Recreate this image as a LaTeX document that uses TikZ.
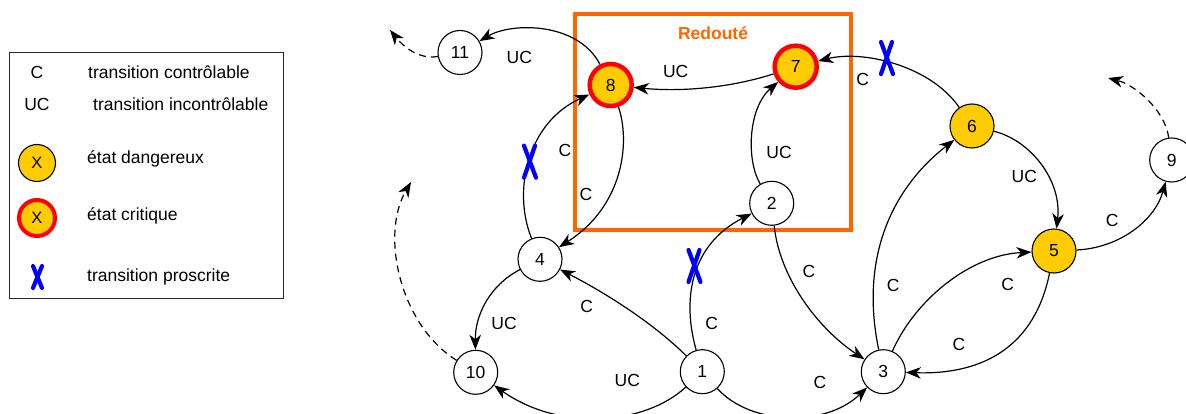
\documentclass[tikz,border=0pt]{standalone}
\usepackage{fontspec}
\setmainfont{Liberation Sans}
\usetikzlibrary{arrows.meta}
\definecolor{gold}{RGB}{255,204,0}
\definecolor{redc}{RGB}{255,0,0}
\definecolor{orng}{RGB}{255,102,0}
\definecolor{bluex}{RGB}{0,0,255}
\begin{document}
\begin{tikzpicture}[x=1pt,y=-1pt,
  every node/.style={font=\fontsize{17.5}{20}\selectfont},
  st/.style={circle,draw,line width=1.1pt,minimum size=44pt,inner sep=0pt,fill=white},
  dang/.style={st,fill=gold},
  crit/.style={st,fill=gold,draw=redc,line width=4.5pt,minimum size=42pt},
  edge/.style={line width=1.2pt,-{Stealth[length=15pt,width=11.5pt,inset=4.5pt]}},
  dedge/.style={edge,dash pattern=on 7pt off 5pt},
  lbl/.style={inner sep=0pt},
  xmk/.style={draw=bluex,line width=4.2pt,line cap=round},
  proscr/.pic={\draw[xmk] (-6,-16) -- (6,16); \draw[xmk] (5,-16) -- (-6,16);}
]
\path[use as bounding box] (0,0) rectangle (1186,414);
\clip (0,0) rectangle (1186,414);

% legend
\node[draw=black!85,line width=1pt,outer sep=0pt,inner sep=0pt,minimum width=274pt,minimum height=245pt] (legend) at (146,175.5) {};
\node[lbl] (kC) at (37,72) {C};
\node[lbl,anchor=west] (kCt) at (88,72) {transition contrôlable};
\node[lbl] (kUC) at (37,104) {UC};
\node[lbl,anchor=west] (kUCt) at (93,104) {transition incontrôlable};
\node[dang,minimum size=37pt,font=\fontsize{16.5}{18}\selectfont] (kD) at (37,163) {X};
\node[lbl,anchor=west] (kDt) at (87,159) {état dangereux};
\node[crit,minimum size=36pt,line width=4pt,font=\fontsize{16.5}{18}\selectfont] (kR) at (37,218) {X};
\node[lbl,anchor=west] (kRt) at (87,216) {état critique};
\draw[xmk] (33,266) -- (42,288);
\draw[xmk] (42,266) -- (33,288);
\node[lbl,anchor=west] (kXt) at (87,277) {transition proscrite};

% zone
\node[draw=orng,line width=4pt,outer sep=0pt,inner sep=0pt,minimum width=276pt,minimum height=216.5pt] (zone) at (713.3,122) {};
\node[lbl,text=orng,font=\fontsize{17.5}{20}\selectfont\bfseries] (zt) at (713,33) {Redouté};

% states
\node[st] (n1) at (702.3,371.7) {1};
\node[st] (n2) at (771.7,203.3) {2};
\node[st] (n3) at (883.3,371.7) {3};
\node[st] (n4) at (540,259.3) {4};
\node[dang] (n5) at (1054,251) {5};
\node[dang] (n6) at (972,126) {6};
\node[crit] (n7) at (795.7,66.7) {7};
\node[crit] (n8) at (610.7,85) {8};
\node[st] (n9) at (1171.7,160) {9};
\node[st] (n10) at (475.7,372.3) {10};
\node[st] (n11) at (460,52.5) {11};

\coordinate (d11) at (390,30);
\coordinate (d10) at (411,182);
\coordinate (d9) at (1108,78);

% transitions
\draw[edge] (n8) .. controls (578,22) and (512,22) .. (n11);
\draw[dedge] (n11) .. controls (418,60) and (402,45) .. (d11);
\draw[edge] (n7) .. controls (730,88) and (680,92) .. (n8);
\draw[edge] (n2) .. controls (746,160) and (748,108) .. (n7);
\draw[edge] (n6) .. controls (930,65) and (862,50) .. (n7);
\draw[edge] (n8) .. controls (630,140) and (625,205) .. (n4);
\draw[edge] (n4) .. controls (512,190) and (528,122) .. (n8);
\draw[edge] (n4) .. controls (490,285) and (475,315) .. (n10);
\draw[dedge] (n10) .. controls (400,325) and (380,235) .. (d10);
\draw[edge] (n1) .. controls (650,320) and (600,290) .. (n4);
\draw[edge] (n1) .. controls (645,425) and (560,432) .. (n10);
\draw[edge] (n1) .. controls (682,300) and (690,245) .. (n2);
\draw[edge] (n1) .. controls (750,425) and (825,428) .. (n3);
\draw[edge] (n2) .. controls (780,280) and (820,330) .. (n3);
\draw[edge] (n3) .. controls (860,260) and (890,190) .. (n6);
\draw[edge] (n3) .. controls (915,300) and (970,255) .. (n5);
\draw[edge] (n5) .. controls (1035,345) and (985,375) .. (n3);
\draw[edge] (n6) .. controls (1030,140) and (1062,180) .. (n5);
\draw[edge] (n5) .. controls (1120,248) and (1155,220) .. (n9);
\draw[dedge] (n9) .. controls (1165,110) and (1135,85) .. (d9);

% proscribed marks
\pic at (887,58) {proscr};
\pic at (530,161.7) {proscr};
\pic at (694.5,266) {proscr};

% labels
\node[lbl] (l811) at (519.3,57.3) {UC};
\node[lbl] (l78) at (675.7,71.7) {UC};
\node[lbl] (l27) at (779,152.7) {UC};
\node[lbl] (l67) at (862.7,79.3) {C};
\node[lbl] (l48) at (565,150) {C};
\node[lbl] (l84) at (586,194.3) {C};
\node[lbl] (l410) at (504,323.3) {UC};
\node[lbl] (l14) at (586.7,306.7) {C};
\node[lbl] (l110) at (627.3,380.7) {UC};
\node[lbl] (l12) at (711.7,323.3) {C};
\node[lbl] (l13) at (820,382.7) {C};
\node[lbl] (l23) at (809,271.7) {C};
\node[lbl] (l36) at (893.3,285.7) {C};
\node[lbl] (l35) at (1007.7,284) {C};
\node[lbl] (l53) at (959,344.3) {C};
\node[lbl] (l65) at (1024.3,176.7) {UC};
\node[lbl] (l59) at (1112.3,220.7) {C};
\end{tikzpicture}
\end{document}
